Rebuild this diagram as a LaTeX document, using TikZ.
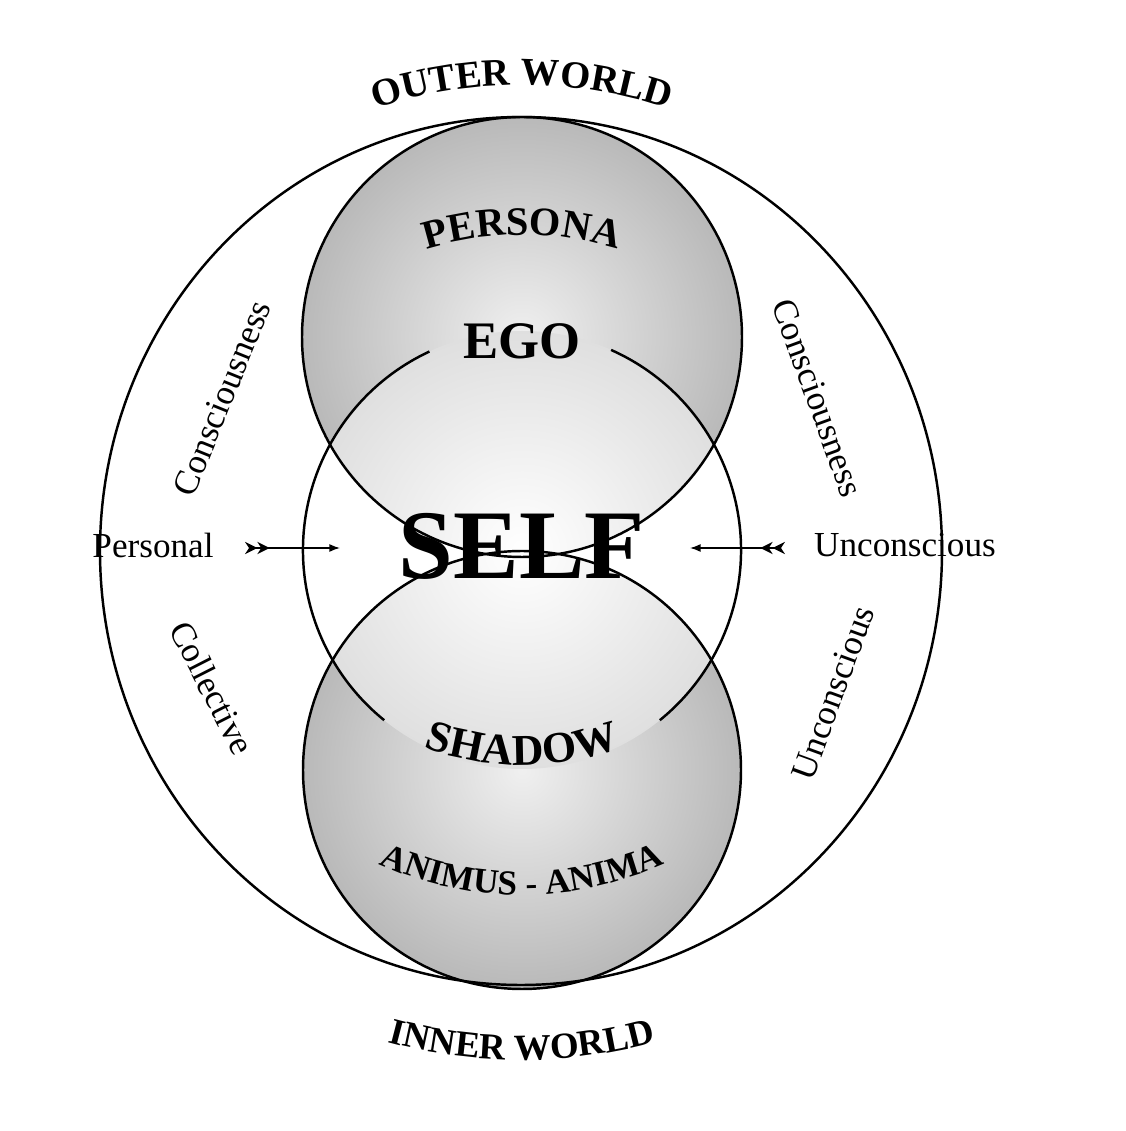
\documentclass[tikz,border=0pt]{standalone}
\usepackage{fontspec}
\setmainfont{Liberation Serif}
\usetikzlibrary{decorations.text,arrows.meta,shapes.geometric}
\begin{document}
\begin{tikzpicture}[x=0.2mm,y=0.2mm,
  ring/.style={line width=1.4pt},
  lab/.style={font=\fontsize{20}{21}\selectfont},
  arr/.style={line width=0.8pt,{Stealth[reversed,length=7pt,width=7pt]Stealth[reversed,length=7pt,width=7pt]}-{Latex[length=6pt]}}]
\useasboundingbox (0,0) rectangle (1125,1131);
\fill[white] (0,0) rectangle (1125,1131);
% shaded circles
\shade[inner color=gray!12,outer color=gray!55] (522,794) circle (220);
\shade[inner color=gray!12,outer color=gray!55] (522,361) circle (219);
\begin{scope}
\clip (522,794) circle (220);
\shade[inner color=white,outer color=gray!25] (522,581) circle (219);
\end{scope}
\begin{scope}
\clip (522,361) circle (219);
\shade[inner color=white,outer color=gray!25] (522,581) circle (219);
\end{scope}
\node[draw,ring,ellipse,minimum width=168.4mm,minimum height=173.6mm,inner sep=0] (outer) at (521,580) {};
\draw[ring] (522,794) circle (220);
\draw[ring] (522,361) circle (219);
% self arcs
\coordinate (sc) at (522,581);
\draw[ring] (sc) ++(66:219) arc (66:-51:219);
\draw[ring] (sc) ++(115:219) arc (115:231:219);
% curved labels
\path[decorate,decoration={text along path,text align=center,
  text={|\bfseries\fontsize{22}{22}\selectfont|OUTER WORLD}}] (522,580) ++(125:466) arc (125:55:466);
\path[decorate,decoration={text along path,text align=center,
  text={|\bfseries\fontsize{23}{23}\selectfont|PERSONA}}] (522,580) ++(135:316) arc (135:45:316);
\path[decorate,decoration={text along path,text align=center,
  text={|\bfseries\fontsize{25}{25}\selectfont|SHADOW}}] (522,650) ++(225:284) arc (225:315:284);
\path[decorate,decoration={text along path,text align=center,
  text={|\bfseries\fontsize{20}{20}\selectfont|ANIMUS - ANIMA}}] (522,580) ++(230:344) arc (230:310:344);
\path[decorate,decoration={text along path,text align=center,
  text={|\bfseries\fontsize{21}{21}\selectfont|INNER WORLD}}] (522,580) ++(240:509) arc (240:300:509);
\node[font=\bfseries\fontsize{30}{30}\selectfont] (ego) at (522,790) {EGO};
\node[font=\bfseries\fontsize{56}{56}\selectfont] (self) at (522,585) {SELF};
% side labels
\node[lab,rotate=68] (c1) at (222,733) {Consciousness};
\node[lab,rotate=-70] (c2) at (818,733) {Consciousness};
\node[lab,rotate=-63] (col) at (212,443) {Collective};
\node[lab,rotate=70] (u2) at (833,438) {Unconscious};
\node[lab] (pers) at (153,586) {Personal};
\node[lab] (unc) at (905,586) {Unconscious};
\coordinate (a1) at (245,583); \coordinate (a2) at (340,583);
\coordinate (b1) at (785,583); \coordinate (b2) at (690,583);
\draw[arr] (a1) -- (a2);
\draw[arr] (b1) -- (b2);
\end{tikzpicture}
\end{document}
